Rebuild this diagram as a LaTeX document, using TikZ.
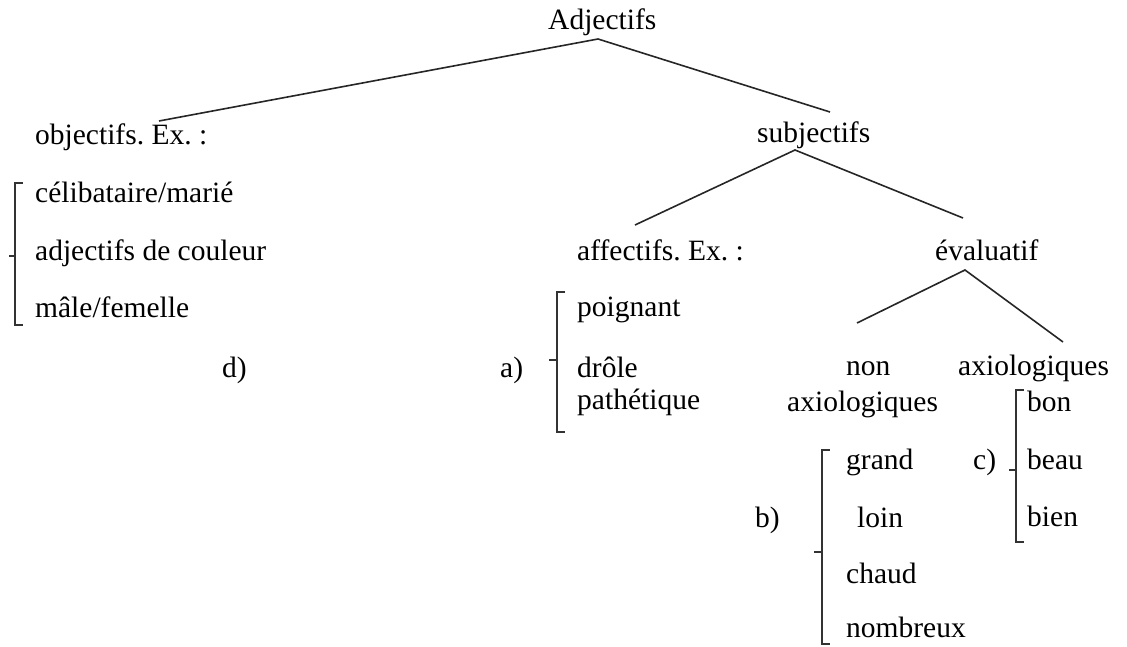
\documentclass[tikz,border=0pt]{standalone}
\usepackage{fontspec}
\setmainfont{Liberation Serif}
\frenchspacing
\begin{document}
\begin{tikzpicture}[x=1pt,y=-1pt,
  lbl/.style={anchor=base west,inner sep=0pt,font=\fontsize{29.5}{35}\selectfont},
  branch/.style={line width=1.6pt,draw=black!85},
  brk/.style={line width=1.5pt,draw=black!80}]
\useasboundingbox (0,0) rectangle (1127,647);

% tree labels
\node[lbl] (adj)  at (548,30)  {Adjectifs};
\node[lbl] (obj)  at (35,145)  {objectifs. Ex. :};
\node[lbl] (subj) at (757,143) {subjectifs};
\node[lbl] (aff)  at (577,260) {affectifs. Ex. :};
\node[lbl] (eval) at (935,260) {évaluatif};
\node[lbl] (non)  at (846,375) {non};
\node[lbl] (nonb) at (787,411) {axiologiques};
\node[lbl] (axio) at (958,375) {axiologiques};

% branch end points
\coordinate (adj-f)  at (598,39);
\coordinate (obj-h)  at (159,121);
\coordinate (subj-h) at (830,112);
\coordinate (subj-f) at (795,150);
\coordinate (aff-h)  at (635,225);
\coordinate (eval-h) at (963,218);
\coordinate (eval-f) at (965,270);
\coordinate (non-h)  at (857,323);
\coordinate (axio-h) at (1063,342);

\draw[branch] (obj-h) -- (adj-f) -- (subj-h);
\draw[branch] (aff-h) -- (subj-f) -- (eval-h);
\draw[branch] (non-h) -- (eval-f) -- (axio-h);

% examples: objectifs
\node[lbl] (o1) at (35,203) {célibataire/marié};
\node[lbl] (o2) at (35,260) {adjectifs de couleur};
\node[lbl] (o3) at (35,317) {mâle/femelle};
\node[lbl] (d)  at (222,377) {d)};
\draw[brk] (23,183) -- (15,183) -- (15,325) -- (23,325);
\draw[brk] (15,256) -- (9,256);

% examples: affectifs
\node[lbl] (a1) at (577,316) {poignant};
\node[lbl] (a2) at (577,377) {drôle};
\node[lbl] (a3) at (577,409) {pathétique};
\node[lbl] (a)  at (500,377) {a)};
\draw[brk] (565,292) -- (557,292) -- (557,432) -- (565,432);
\draw[brk] (557,360) -- (549,360);

% examples: non axiologiques
\node[lbl] (b1) at (846,469) {grand};
\node[lbl] (b2) at (857,527) {loin};
\node[lbl] (b3) at (846,583) {chaud};
\node[lbl] (b4) at (846,637) {nombreux};
\node[lbl] (b)  at (755,527) {b)};
\draw[brk] (830,450) -- (822,450) -- (822,644) -- (830,644);
\draw[brk] (822,552) -- (814,552);

% examples: axiologiques
\node[lbl] (c1) at (1027,411) {bon};
\node[lbl] (c2) at (1027,469) {beau};
\node[lbl] (c3) at (1027,526) {bien};
\node[lbl] (c)  at (973,469) {c)};
\draw[brk] (1024,390) -- (1016,390) -- (1016,542) -- (1024,542);
\draw[brk] (1016,470) -- (1009,470);
\end{tikzpicture}
\end{document}
